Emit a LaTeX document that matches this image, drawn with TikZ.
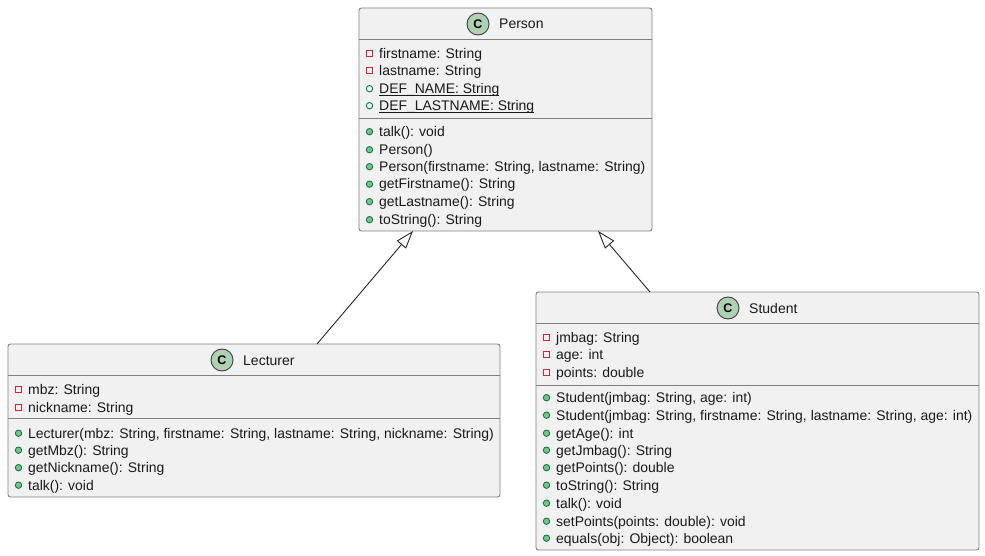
\documentclass[tikz,border=0pt]{standalone}
\usepackage{fontspec}
\setmainfont{Liberation Sans}
\usetikzlibrary{arrows.meta}
\definecolor{boxfill}{HTML}{F1F1F1}
\definecolor{boxline}{HTML}{808080}
\definecolor{sepline}{HTML}{808080}
\definecolor{circfill}{HTML}{ADD1B2}
\definecolor{privred}{HTML}{C82930}
\definecolor{pubgreen}{HTML}{038048}
\definecolor{pubfill}{HTML}{84BE84}
\tikzset{
 x=1pt,y=-1pt,
 classbox/.style={draw=boxline,fill=boxfill,line width=0.9pt,rounded corners=2.5pt,minimum width=#1,inner sep=0pt},
 sepl/.style={draw=sepline,line width=0.9pt},
 member/.style={anchor=base west,inner sep=0pt,font=\fontsize{13.95}{16}\selectfont,text=black!90!white},
 cltitle/.style={anchor=base west,inner sep=0pt,font=\fontsize{14}{16}\selectfont,text=black!90!white},
 badge/.style={circle,draw=black!75!white,fill=circfill,line width=0.9pt,minimum size=22pt,inner sep=0pt,font=\fontsize{12.5}{13}\bfseries\selectfont},
 priv/.style={draw=privred,line width=0.9pt,fill=none,minimum size=6.4pt,inner sep=0pt,rectangle},
 pubm/.style={circle,draw=pubgreen,fill=pubfill,line width=0.9pt,minimum size=6.4pt,inner sep=0pt},
 pubs/.style={circle,draw=pubgreen,fill=none,line width=0.9pt,minimum size=6.4pt,inner sep=0pt},
 inherit/.style={draw=black!85!white,line width=0.9pt,-{Triangle[open,length=18pt,width=12pt,fill=white]}}
}
\newcommand{\mem}[5]{% style, marker x, text x, y, text
 \node[#1] at (#2,#4-4.8) {};
 \node[member] at (#3,#4) {#5};
}
\newsavebox{\ulbox}
\newcommand{\ulined}[1]{\sbox{\ulbox}{#1}\rlap{\rule[-2.2pt]{\wd\ulbox}{1pt}}\usebox{\ulbox}}
\begin{document}
\begin{tikzpicture}
\useasboundingbox (0,0) rectangle (985,556);
% Person
\node[classbox=293pt,minimum height=223pt] (person) at (505.5,119.5) {};
\draw[sepl] (359,39.5) -- (652,39.5);
\draw[sepl] (359,118) -- (652,118);
\node[badge] (pc) at (478,24) {C};
\node[cltitle] (pt) at (499,29) {Person};
\mem{priv}{369.5}{379}{58.5}{firstname: String}
\mem{priv}{369.5}{379}{75.5}{lastname: String}
\mem{pubs}{369.5}{379}{93.5}{\ulined{DEF\_NAME: String}}
\mem{pubs}{369.5}{379}{110.5}{\ulined{DEF\_LASTNAME: String}}
\mem{pubm}{369.5}{379}{136.5}{talk(): void}
\mem{pubm}{369.5}{379}{154.5}{Person()}
\mem{pubm}{369.5}{379}{171.5}{Person(firstname: String, lastname: String)}
\mem{pubm}{369.5}{379}{189}{getFirstname(): String}
\mem{pubm}{369.5}{379}{206.5}{getLastname(): String}
\mem{pubm}{369.5}{379}{224.5}{toString(): String}
% Lecturer
\node[classbox=492pt,minimum height=153pt] (lecturer) at (254,420.5) {};
\draw[sepl] (8,375.5) -- (500,375.5);
\draw[sepl] (8,418) -- (500,418);
\node[badge] (lc) at (222,360) {C};
\node[cltitle] (lt) at (243,365) {Lecturer};
\mem{priv}{18.5}{28}{394}{mbz: String}
\mem{priv}{18.5}{28}{412}{nickname: String}
\mem{pubm}{18.5}{28}{438}{Lecturer(mbz: String, firstname: String, lastname: String, nickname: String)}
\mem{pubm}{18.5}{28}{455}{getMbz(): String}
\mem{pubm}{18.5}{28}{472.5}{getNickname(): String}
\mem{pubm}{18.5}{28}{490}{talk(): void}
% Student
\node[classbox=443pt,minimum height=258pt] (student) at (757.5,421) {};
\draw[sepl] (536,323.5) -- (979,323.5);
\draw[sepl] (536,385) -- (979,385);
\node[badge] (sc) at (728,308) {C};
\node[cltitle] (st) at (749,313) {Student};
\mem{priv}{546.5}{556}{342.5}{jmbag: String}
\mem{priv}{546.5}{556}{359.5}{age: int}
\mem{priv}{546.5}{556}{377.5}{points: double}
\mem{pubm}{546.5}{556}{402.5}{Student(jmbag: String, age: int)}
\mem{pubm}{546.5}{556}{420}{Student(jmbag: String, firstname: String, lastname: String, age: int)}
\mem{pubm}{546.5}{556}{438}{getAge(): int}
\mem{pubm}{546.5}{556}{455}{getJmbag(): String}
\mem{pubm}{546.5}{556}{472.5}{getPoints(): double}
\mem{pubm}{546.5}{556}{490}{toString(): String}
\mem{pubm}{546.5}{556}{508}{talk(): void}
\mem{pubm}{546.5}{556}{526}{setPoints(points: double): void}
\mem{pubm}{546.5}{556}{543}{equals(obj: Object): boolean}
% Connectors
\coordinate (lfoot) at (317,344);
\coordinate (lhead) at (413,231);
\coordinate (sfoot) at (650,292);
\coordinate (shead) at (598,231);
\draw[inherit] (lfoot) -- (lhead);
\draw[inherit] (sfoot) -- (shead);
\end{tikzpicture}
\end{document}
